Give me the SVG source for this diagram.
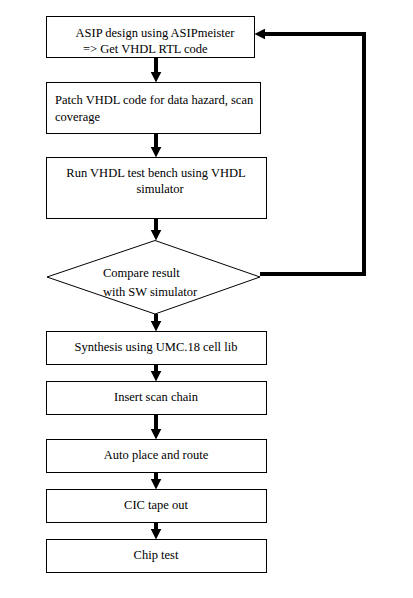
<svg xmlns="http://www.w3.org/2000/svg" width="413" height="598" viewBox="0 0 413 598">
<style>
.box{fill:#fff;stroke:#000;stroke-width:1}
.t{font-family:"Liberation Serif","Times New Roman",serif;font-size:12.5px;fill:#000}
.c{text-anchor:middle}
.conn{fill:none;stroke:#000;stroke-width:4}
</style>
<defs>
<marker id="ah" markerUnits="userSpaceOnUse" markerWidth="11" markerHeight="11" refX="4" refY="5" orient="auto" viewBox="0 0 10 10">
<path d="M0,0 L10,5 L0,10 z" fill="#000"/>
</marker>
</defs>
<rect width="413" height="598" fill="#fff"/>
<g id="connectors">
<path class="conn" d="M156,57 V76" marker-end="url(#ah)"/>
<path class="conn" d="M156,133 V151" marker-end="url(#ah)"/>
<path class="conn" d="M156,218 V234" marker-end="url(#ah)"/>
<path class="conn" d="M156,314 V325" marker-end="url(#ah)"/>
<path class="conn" d="M156,364 V375" marker-end="url(#ah)"/>
<path class="conn" d="M156,414 V433" marker-end="url(#ah)"/>
<path class="conn" d="M156,472 V483" marker-end="url(#ah)"/>
<path class="conn" d="M156,522 V533" marker-end="url(#ah)"/>
<path class="conn" d="M260,274 H364 V34 H261" marker-end="url(#ah)"/>
</g>
<g id="n1">
<rect class="box" x="46.5" y="16.5" width="208" height="41"/>
<text class="t c" x="155" y="37">ASIP design using ASIPmeister</text>
<text class="t" x="83" y="53">=&gt; Get VHDL RTL code</text>
</g>
<g id="n2">
<rect class="box" x="46.5" y="82.5" width="214" height="51"/>
<text class="t" x="55" y="104">Patch VHDL code for data hazard, scan</text>
<text class="t" x="55" y="121">coverage</text>
</g>
<g id="n3">
<rect class="box" x="46.5" y="157.5" width="220" height="61"/>
<text class="t c" x="156" y="177">Run VHDL test bench using VHDL</text>
<text class="t c" x="160" y="193">simulator</text>
</g>
<g id="n4">
<polygon class="box" points="155,240.5 260,277 155,314 47,277"/>
<text class="t" x="103" y="277">Compare result</text>
<text class="t" x="103" y="296">with SW simulator</text>
</g>
<g id="n5">
<rect class="box" x="46.5" y="331.5" width="220" height="33"/>
<text class="t c" x="156" y="351">Synthesis using UMC.18 cell lib</text>
</g>
<g id="n6">
<rect class="box" x="46.5" y="381.5" width="220" height="33"/>
<text class="t c" x="156" y="401">Insert scan chain</text>
</g>
<g id="n7">
<rect class="box" x="46.5" y="439.5" width="220" height="33"/>
<text class="t c" x="156" y="459">Auto place and route</text>
</g>
<g id="n8">
<rect class="box" x="46.5" y="489.5" width="220" height="33"/>
<text class="t c" x="156" y="509">CIC tape out</text>
</g>
<g id="n9">
<rect class="box" x="46.5" y="539.5" width="220" height="33"/>
<text class="t c" x="156" y="559">Chip test</text>
</g>
</svg>
